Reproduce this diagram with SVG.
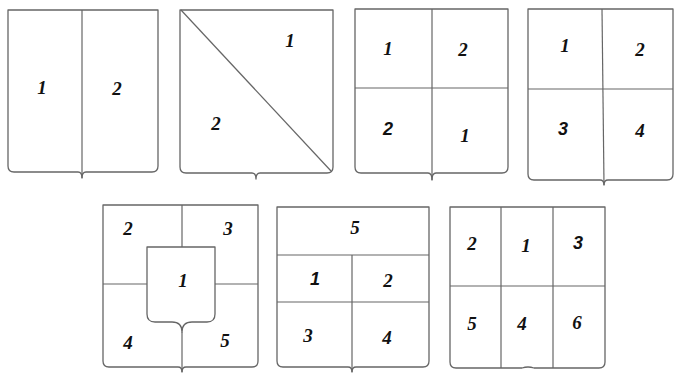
<svg xmlns="http://www.w3.org/2000/svg" width="680" height="373" viewBox="0 0 680 373">
<style>
.s{fill:none;stroke:#666;stroke-width:1.3;stroke-linejoin:round}
.l{fill:none;stroke:#666;stroke-width:1.2}
text{font-family:"Liberation Serif","Times New Roman",serif;font-style:italic;font-weight:bold;font-size:19px;fill:#111;text-anchor:middle}
text.b{font-family:"Liberation Sans",Arial,sans-serif;font-size:18px}
</style>
<rect width="680" height="373" fill="#fff"/>
<g id="shield1">
<path class="s" d="M8,10 H158 V166 Q158,172 152,172 H86 Q82,172 82,178 Q82,172 78,172 H14 Q8,172 8,166 Z"/>
<line class="l" x1="82" y1="10" x2="82" y2="178"/>
<text x="42" y="94">1</text>
<text x="117" y="95">2</text>
</g>
<g id="shield2">
<path class="s" d="M180,10 H333 V167 Q333,173 327,173 H260 Q256,173 256,179 Q256,173 252,173 H186 Q180,173 180,167 Z"/>
<line class="l" x1="181" y1="10" x2="331" y2="171"/>
<text x="290" y="47">1</text>
<text x="216" y="130">2</text>
</g>
<g id="shield3">
<path class="s" d="M355,9 H508 V167 Q508,173 502,173 H436 Q432,173 432,180 Q432,173 428,173 H361 Q355,173 355,167 Z"/>
<line class="l" x1="355" y1="88" x2="508" y2="88"/>
<line class="l" x1="432" y1="9" x2="432" y2="180"/>
<text x="388" y="55">1</text>
<text x="463" y="56">2</text>
<text class="b" x="388" y="135">2</text>
<text x="465" y="142">1</text>
</g>
<g id="shield4">
<path class="s" d="M528,9 H673 V174 Q673,180 667,180 H608 Q604,180 604,185 Q604,180 600,180 H534 Q528,180 528,174 Z"/>
<line class="l" x1="528" y1="89" x2="673" y2="89"/>
<line class="l" x1="602" y1="9" x2="604" y2="185"/>
<text x="565" y="52">1</text>
<text x="640" y="56">2</text>
<text class="b" x="563" y="135">3</text>
<text x="640" y="137">4</text>
</g>
<g id="shield5">
<path class="s" d="M103,205 H258 V361 Q258,367 252,367 H186 Q182,367 182,372 Q182,367 178,367 H109 Q103,367 103,361 Z"/>
<path class="s" d="M147,247 H215 V314 Q215,322 207,322 H192 Q182,322 182,332 Q182,322 172,322 H155 Q147,322 147,314 Z"/>
<line class="l" x1="103" y1="284" x2="147" y2="284"/>
<line class="l" x1="215" y1="284" x2="258" y2="284"/>
<line class="l" x1="182" y1="205" x2="182" y2="247"/>
<line class="l" x1="182" y1="332" x2="182" y2="372"/>
<text x="128" y="235">2</text>
<text x="228" y="235">3</text>
<text x="183" y="287">1</text>
<text x="128" y="349">4</text>
<text x="225" y="347">5</text>
</g>
<g id="shield6">
<path class="s" d="M277,207 H429 V361 Q429,367 423,367 H356 Q352,367 352,372 Q352,367 348,367 H283 Q277,367 277,361 Z"/>
<line class="l" x1="277" y1="255" x2="429" y2="255"/>
<line class="l" x1="277" y1="302" x2="429" y2="302"/>
<line class="l" x1="352" y1="255" x2="352" y2="372"/>
<text x="355" y="234">5</text>
<text class="b" x="315" y="285">1</text>
<text x="388" y="287">2</text>
<text x="308" y="342">3</text>
<text x="387" y="344">4</text>
</g>
<g id="shield7">
<path class="s" d="M450,207 H605 V362 Q605,368 599,368 H534 Q528,366 522,368 H456 Q450,368 450,362 Z"/>
<line class="l" x1="450" y1="286" x2="605" y2="286"/>
<line class="l" x1="501" y1="207" x2="501" y2="368"/>
<line class="l" x1="553" y1="207" x2="553" y2="368"/>
<text x="472" y="250">2</text>
<text x="526" y="252">1</text>
<text class="b" x="578" y="249">3</text>
<text x="472" y="330">5</text>
<text x="522" y="330">4</text>
<text x="577" y="329">6</text>
</g>
</svg>
